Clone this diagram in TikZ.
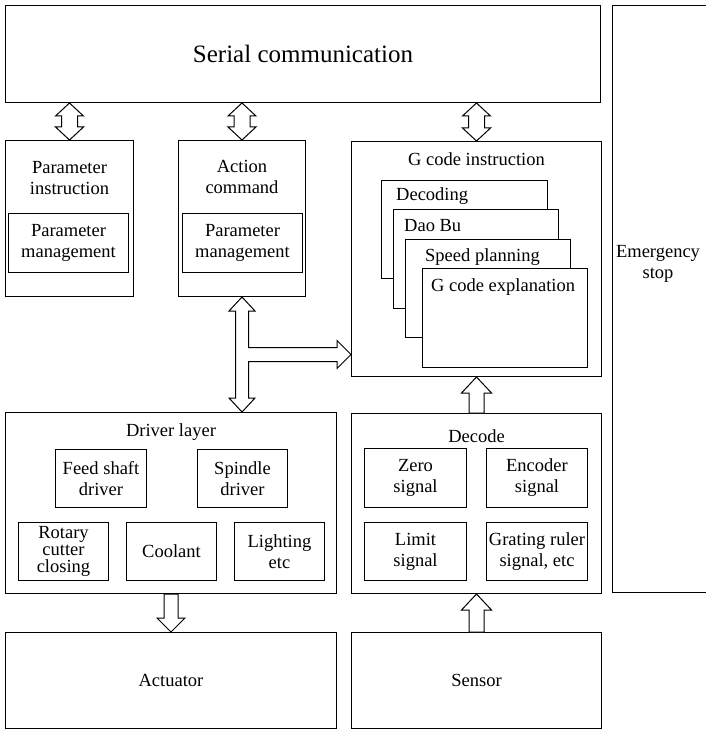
\documentclass[tikz,border=0pt]{standalone}
\usepackage{fontspec}
\setmainfont{Liberation Serif}
\usetikzlibrary{positioning, calc}

% hollow double arrow, #1 upper box, #2 lower box (arrow on the x of #2)
\newcommand{\hollowdbl}[2]{%
  \draw[bigarrow] let \p1=(#1), \p2=(#2) in
    (\x2,\y1) -- (\x2+14pt,\y1-13pt) -- (\x2+8pt,\y1-13pt) -- (\x2+8pt,\y2+13pt)
    -- (\x2+14pt,\y2+13pt) -- (\x2,\y2) -- (\x2-14pt,\y2+13pt) -- (\x2-8pt,\y2+13pt)
    -- (\x2-8pt,\y1-13pt) -- (\x2-14pt,\y1-13pt) -- cycle;}
% hollow arrow pointing up, from #1 (below) to #2 (above)
\newcommand{\hollowup}[2]{%
  \draw[bigarrow] let \p1=(#1), \p2=(#2) in
    (\x2,\y2) -- (\x2+15pt,\y2-16pt) -- (\x2+7.5pt,\y2-16pt) -- (\x2+7.5pt,\y1)
    -- (\x2-7.5pt,\y1) -- (\x2-7.5pt,\y2-16pt) -- (\x2-15pt,\y2-16pt) -- cycle;}
% hollow arrow pointing down, from #1 (above) to #2 (below)
\newcommand{\hollowdown}[2]{%
  \draw[bigarrow] let \p1=(#1), \p2=(#2) in
    (\x1,\y2) -- (\x1+14pt,\y2+14pt) -- (\x1+7pt,\y2+14pt) -- (\x1+7pt,\y1)
    -- (\x1-7pt,\y1) -- (\x1-7pt,\y2+14pt) -- (\x1-14pt,\y2+14pt) -- cycle;}

\begin{document}
\begin{tikzpicture}[x=1pt, y=-1pt,
  box/.style={draw, line width=1pt, inner sep=0pt, anchor=north west, fill=white},
  lbl/.style={align=center, inner sep=0pt, font=\fontsize{18.5}{21}\selectfont},
  sub/.style={box, align=center, font=\fontsize{18.5}{21}\selectfont},
  bigarrow/.style={draw, line width=1pt, fill=white, line join=miter}
]
\useasboundingbox (0,0) rectangle (705,733);

% top row
\node[box, minimum width=595, minimum height=97, font=\fontsize{25}{28}\selectfont] (ser) at (5,5) {Serial communication};
\node[box, minimum width=110, minimum height=587] (emg) at (612,5) {};
\node[lbl] (emgt) at (658,264) {Emergency\\stop};

% parameter / action blocks
\node[box, minimum width=128, minimum height=156] (par) at (5,140) {};
\node[lbl] (part) at ([yshift=-38pt]par.north) {Parameter\\instruction};
\node[sub, minimum width=120, minimum height=59] (parm) at (8,213) {Parameter\\management};

\node[box, minimum width=127, minimum height=156] (act) at (178,140) {};
\node[lbl] (actt) at ([yshift=-37pt]act.north) {Action\\command};
\node[sub, minimum width=120, minimum height=59] (actm) at (182,213) {Parameter\\management};

% G code block
\node[box, minimum width=250, minimum height=235] (gci) at (351,141) {};
\node[lbl] (gcit) at ([yshift=-18pt]gci.north) {G code instruction};
\node[box, minimum width=166, minimum height=98] (dcg) at (381,180) {};
\node[lbl, anchor=base west] (dcgt) at ([xshift=15pt,yshift=-20pt]dcg.north west) {Decoding};
\node[box, minimum width=165, minimum height=99] (dao) at (393,209) {};
\node[lbl, anchor=base west] (daot) at ([xshift=11pt,yshift=-22pt]dao.north west) {Dao Bu};
\node[box, minimum width=165, minimum height=98] (spp) at (405,239) {};
\node[lbl, anchor=base west] (sppt) at ([xshift=20pt,yshift=-22pt]spp.north west) {Speed planning};
\node[box, minimum width=165, minimum height=99] (gce) at (422,268) {};
\node[lbl, anchor=base west] (gcet) at ([xshift=9pt,yshift=-23pt]gce.north west) {G code explanation};

% driver layer
\node[box, minimum width=331, minimum height=181] (drv) at (5,412) {};
\node[lbl] (drvt) at ([yshift=-20pt]drv.north) {Driver layer};
\node[sub, minimum width=91, minimum height=58] (fsd) at (55,449) {Feed shaft\\driver};
\node[sub, minimum width=90, minimum height=58] (spd) at (197,449) {Spindle\\driver};
\node[sub, minimum width=90, minimum height=58, font=\fontsize{18.5}{17}\selectfont] (rcc) at (18,522) {Rotary\\cutter\\closing};
\node[sub, minimum width=90, minimum height=58] (cool) at (126,522) {Coolant};
\node[sub, minimum width=90, minimum height=58] (lig) at (234,522) {Lighting\\etc};

% decode
\node[box, minimum width=250, minimum height=180] (dcd) at (351,413) {};
\node[lbl] (dcdt) at ([yshift=-23pt]dcd.north) {Decode};
\node[sub, minimum width=102, minimum height=59] (zero) at (364,448) {Zero\\signal};
\node[sub, minimum width=101, minimum height=59] (enc) at (486,448) {Encoder\\signal};
\node[sub, minimum width=102, minimum height=58] (lim) at (364,522) {Limit\\signal};
\node[sub, minimum width=101, minimum height=58] (grat) at (486,522) {Grating ruler\\signal, etc};

% bottom row
\node[sub, minimum width=331, minimum height=96] (actu) at (5,632) {Actuator};
\node[sub, minimum width=250, minimum height=96] (sen) at (351,632) {Sensor};

% arrows
\hollowdbl{ser.south}{par.north}
\hollowdbl{ser.south}{act.north}
\hollowdbl{ser.south}{gci.north}
\draw[bigarrow] let \p1=(act.south), \p2=(drv.north), \p3=($(act.south)!.5!(drv.north)$), \p4=(gci.west) in
  (\x1,\y1) -- (\x1+13pt,\y1-14pt) -- (\x1+6.5pt,\y1-14pt) -- (\x1+6.5pt,\y3+7pt)
  -- (\x4-14pt,\y3+7pt) -- (\x4-14pt,\y3+14pt) -- (\x4,\y3) -- (\x4-14pt,\y3-14pt)
  -- (\x4-14pt,\y3-7pt) -- (\x1+6.5pt,\y3-7pt) -- (\x1+6.5pt,\y2+14pt) -- (\x1+13pt,\y2+14pt)
  -- (\x1,\y2) -- (\x1-13pt,\y2+14pt) -- (\x1-6.5pt,\y2+14pt) -- (\x1-6.5pt,\y1-14pt)
  -- (\x1-13pt,\y1-14pt) -- cycle;
\hollowup{dcd.north}{gci.south}
\hollowup{sen.north}{dcd.south}
\hollowdown{drv.south}{actu.north}
\end{tikzpicture}
\end{document}
